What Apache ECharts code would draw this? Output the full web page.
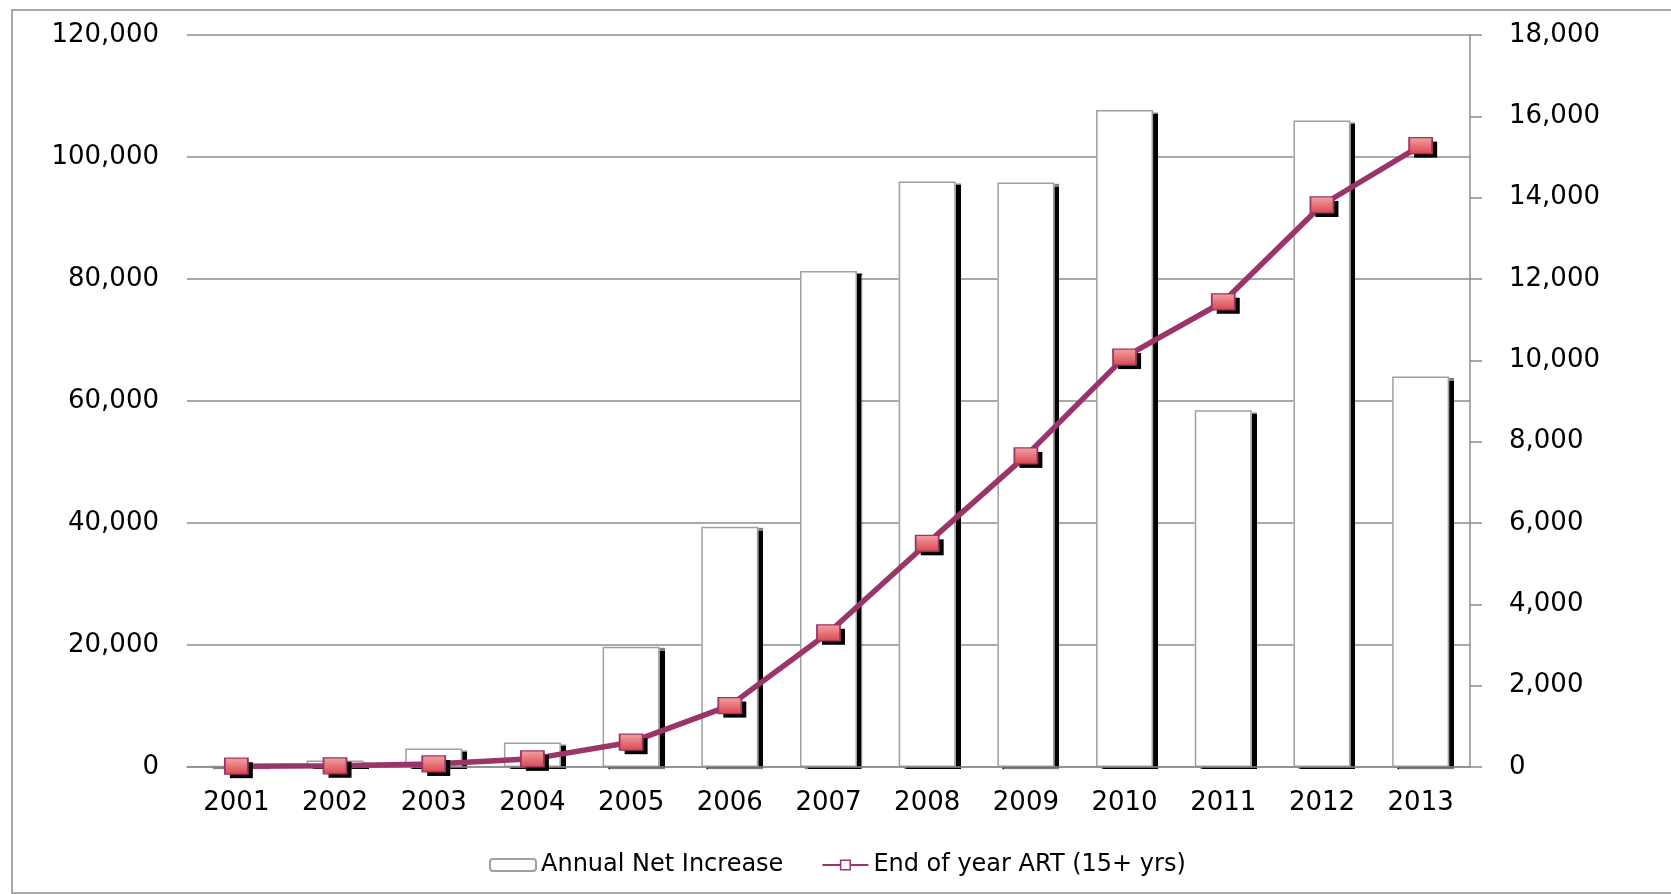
<!DOCTYPE html>
<html>
<head>
<meta charset="utf-8">
<title>Annual Net Increase and End of year ART (15+ yrs)</title>
<script src="https://cdn.jsdelivr.net/npm/echarts@6/dist/echarts.min.js"></script>
<style>
  html, body { margin: 0; padding: 0; background: #fff; }
  #chart { width: 1671px; height: 894px; }
</style>
</head>
<body>
<div id="chart"></div>
<script>
// Years on the category axis
const years = ['2001', '2002', '2003', '2004', '2005', '2006', '2007',
               '2008', '2009', '2010', '2011', '2012', '2013'];

// Annual net increase (left axis)
const annualNetIncrease = [200, 1080, 3050, 4030, 19700, 39400, 81300,
                           96000, 95800, 107700, 58500, 106000, 64000];

// End of year ART, 15+ yrs (right axis)
const endOfYearART = [20, 30, 75, 200, 610, 1510, 3300,
                      5500, 7650, 10080, 11440, 13820, 15280];

// Axis ranges and steps
const leftAxisMax = 120000, leftAxisStep = 20000;
const rightAxisMax = 18000, rightAxisStep = 2000;

const seriesNames = ['Annual Net Increase', 'End of year ART (15+ yrs)'];

const gray = '#8c8c8c';
const plum = '#9b3468';
const labelFont = { fontFamily: 'DejaVu Sans', fontSize: 26, color: '#000' };
const fmt = v => Number(v).toLocaleString('en-US');

const chart = echarts.init(document.getElementById('chart'), null, { renderer: 'canvas' });

chart.setOption({
  animation: false,
  backgroundColor: '#fff',
  graphic: [{
    type: 'rect',
    z: -10,
    silent: true,
    shape: { x: 12, y: 10, width: 1690, height: 883 },
    style: { fill: 'none', stroke: gray, lineWidth: 1.5 }
  }],
  grid: { left: 187, right: 201, top: 35, bottom: 127, containLabel: false },
  legend: {
    left: 484,
    top: 848,
    itemWidth: 46,
    itemHeight: 12,
    itemGap: 38,
    textStyle: { fontFamily: 'DejaVu Sans', fontSize: 24, color: '#000' },
    data: [
      { name: seriesNames[0] },
      { name: seriesNames[1], itemStyle: { color: '#fff', borderColor: plum, borderWidth: 1.5 } }
    ]
  },
  xAxis: {
    type: 'category',
    data: years,
    z: 4,
    axisLine: { lineStyle: { color: gray, width: 1.5 } },
    axisTick: { show: false },
    axisLabel: Object.assign({ margin: 23, interval: 0 }, labelFont)
  },
  yAxis: [{
    type: 'value',
    min: 0,
    max: leftAxisMax,
    interval: leftAxisStep,
    axisLine: { show: false },
    axisTick: { show: false },
    splitLine: { lineStyle: { color: gray, width: 1.5 } },
    axisLabel: Object.assign({ margin: 28, formatter: fmt }, labelFont)
  }, {
    type: 'value',
    position: 'right',
    min: 0,
    max: rightAxisMax,
    interval: rightAxisStep,
    axisLine: { show: true, lineStyle: { color: gray, width: 1.5 } },
    axisTick: { show: true, inside: false, length: 12, lineStyle: { color: gray, width: 1.5 } },
    splitLine: { show: false },
    axisLabel: Object.assign({ margin: 39, formatter: fmt }, labelFont)
  }],
  series: [{
    // drop shadow behind each bar
    name: 'bar-shadow',
    type: 'bar',
    yAxisIndex: 0,
    data: annualNetIncrease,
    barWidth: 57,
    barGap: '-100%',
    z: 2,
    silent: true,
    itemStyle: {
      color: '#fff',
      borderWidth: 0,
      shadowColor: '#000',
      shadowBlur: 1,
      shadowOffsetX: 5,
      shadowOffsetY: 1.5
    },
    emphasis: { disabled: true }
  }, {
    name: seriesNames[0],
    type: 'bar',
    yAxisIndex: 0,
    data: annualNetIncrease,
    barWidth: 57,
    barGap: '-100%',
    z: 3,
    itemStyle: {
      color: '#fff',
      borderColor: '#a0a0a0',
      borderWidth: 1.5
    },
    emphasis: { disabled: true }
  }, {
    // drop shadow behind each square marker
    name: 'marker-shadow',
    type: 'line',
    yAxisIndex: 1,
    data: endOfYearART,
    z: 5,
    silent: true,
    symbol: 'rect',
    symbolSize: [23, 16],
    symbolOffset: [5, 4],
    showAllSymbol: true,
    lineStyle: { width: 0, opacity: 0 },
    itemStyle: { color: '#000', borderWidth: 0 },
    emphasis: { disabled: true }
  }, {
    name: seriesNames[1],
    type: 'line',
    yAxisIndex: 1,
    data: endOfYearART,
    z: 5,
    symbol: 'rect',
    symbolSize: [23, 16],
    showAllSymbol: true,
    lineStyle: { color: plum, width: 5.5 },
    itemStyle: {
      color: new echarts.graphic.LinearGradient(0, 0, 0, 1, [
        { offset: 0, color: '#f4a3a3' },
        { offset: 1, color: '#d8464f' }
      ]),
      borderColor: plum,
      borderWidth: 1.5
    },
    emphasis: { disabled: true }
  }]
});
</script>
</body>
</html>
